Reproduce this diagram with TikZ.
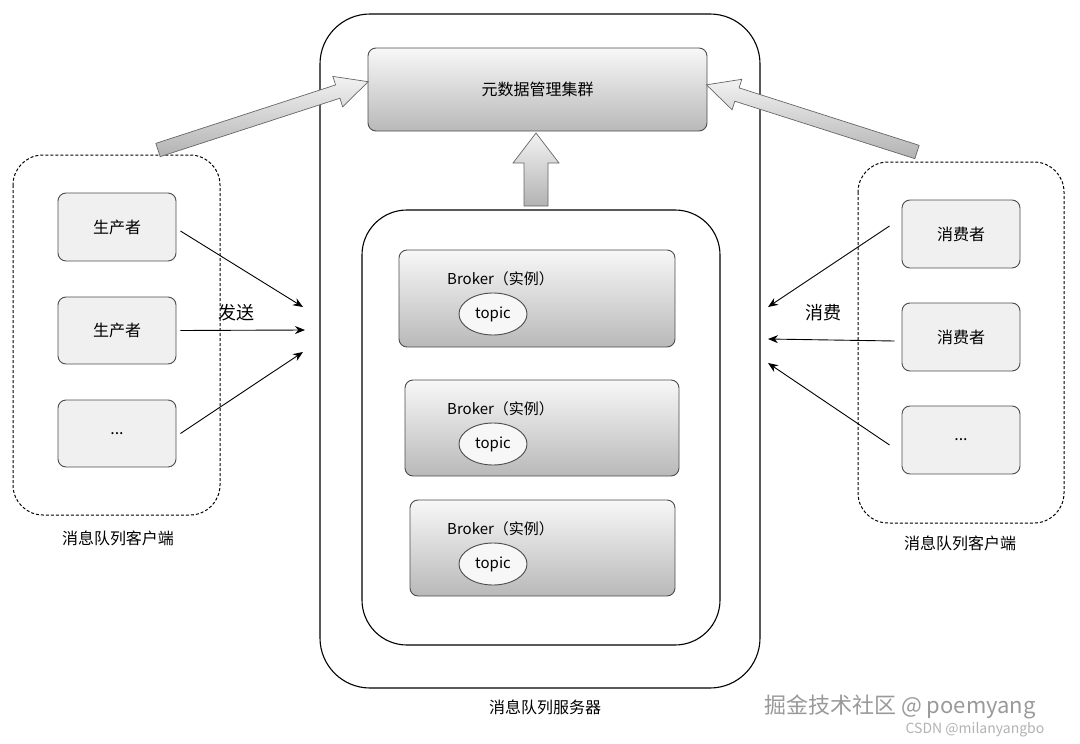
\documentclass[tikz,border=0pt]{standalone}
\usepackage{fontspec}
\setmainfont{Noto Sans CJK SC}
\usetikzlibrary{shapes.geometric,arrows.meta}
\begin{document}
\begin{tikzpicture}[x=1pt,y=-1pt,
  txt/.style={font=\fontsize{16}{19}\selectfont},
  gbox/.style={draw=black!70,line width=0.9pt,rounded corners=8,top color=gray!6,bottom color=gray!55},
  cbox/.style={draw=black!70,line width=0.9pt,rounded corners=8,fill=gray!12,font=\fontsize{16}{19}\selectfont},
  grp/.style={draw=black,dash pattern=on 3pt off 2pt,line width=1pt,rounded corners=30},
  conn/.style={-{Stealth[length=10pt,width=8pt]},line width=0.9pt},
  barrowp/.style={draw=black!60,line width=0.7pt,top color=gray!10,bottom color=gray!60}
]
\useasboundingbox (0,0) rectangle (1080,744);
% block arrow: start, angle, shaft half, length, head length, head extra
\def\blockarrow#1#2#3#4#5#6{%
  \path[barrowp,shift={#1},rotate=#2] (0,-#3) -- ({#4-#5},-#3) -- ({#4-#5},-#3-#6) -- (#4,0) -- ({#4-#5},#3+#6) -- ({#4-#5},#3) -- (0,#3) -- cycle;}
% server
\draw[line width=1.1pt,rounded corners=50] (320,14) rectangle (760,688);
\node[txt] (srvl) at (545,707) {消息队列服务器};
\node[gbox,txt,minimum width=339,minimum height=83] (meta) at (537.5,89.5) {元数据管理集群};
\draw[line width=1.1pt,rounded corners=45] (362,210) rectangle (720,645);
\blockarrow{(536,206)}{90}{12}{73}{30}{11}
% brokers
\foreach \n/\xa/\ya/\xb/\yb in {1/399/250/675/347,2/405/380/679/476,3/410/500/675/596}{
  \draw[gbox] (\xa,\ya) rectangle (\xb,\yb);
  \node[font=\fontsize{15}{18}\selectfont,anchor=west,inner sep=0pt] (bt\n) at (447,\ya+29) {Broker（实例）};
  \node[ellipse,draw=black!70,line width=0.9pt,fill=gray!6,minimum width=68,minimum height=42,font=\fontsize{15}{18}\selectfont] (tp\n) at (493,\ya+64) {topic};
}
% left group
\draw[grp] (13,155) rectangle (220,515);
\node[txt] (ll) at (118,538) {消息队列客户端};
\node[cbox,minimum width=118,minimum height=68] (p1) at (117,227) {生产者};
\node[cbox,minimum width=118,minimum height=67] (p2) at (117,330.5) {生产者};
\node[cbox,minimum width=118,minimum height=67] (p3) at (117,433.5) {...};
\coordinate (l1) at (303,307);
\coordinate (l2) at (305,330);
\coordinate (l3) at (303,352);
\draw[conn] (p1.east)++(4,4) -- (l1);
\draw[conn] (p2.east)++(4,0) -- (l2);
\draw[conn] (p3.east)++(4,0) -- (l3);
\node[font=\fontsize{18}{21}\selectfont] (fs) at (236,313) {发送};
% right group
\draw[grp] (858,162) rectangle (1064,523);
\node[txt] (rl) at (960,543) {消息队列客户端};
\node[cbox,minimum width=118,minimum height=68] (c1) at (961,234) {消费者};
\node[cbox,minimum width=118,minimum height=68] (c2) at (961,337) {消费者};
\node[cbox,minimum width=118,minimum height=68] (c3) at (961,440) {...};
\coordinate (r1) at (768,307);
\coordinate (r2) at (768,339);
\coordinate (r3) at (768,363);
\draw[conn] (c1.west)++(-12,-8) -- (r1);
\draw[conn] (c2.west)++(-7,4) -- (r2);
\draw[conn] (c3.west)++(-12,5) -- (r3);
\node[font=\fontsize{18}{21}\selectfont] (xf) at (823,313) {消费};
% big arrows
\blockarrow{(158,150)}{18}{7}{221}{32}{9}
\blockarrow{(917,152)}{162.3}{7}{221}{32}{9}
% watermarks
\node[font=\fontsize{22}{25}\selectfont,text=gray!80] (wm1) at (900,707) {掘金技术社区 @ poemyang};
\node[font=\fontsize{14}{16}\selectfont,text=gray!60] (wm2) at (975,730) {CSDN @milanyangbo};
\end{tikzpicture}
\end{document}
